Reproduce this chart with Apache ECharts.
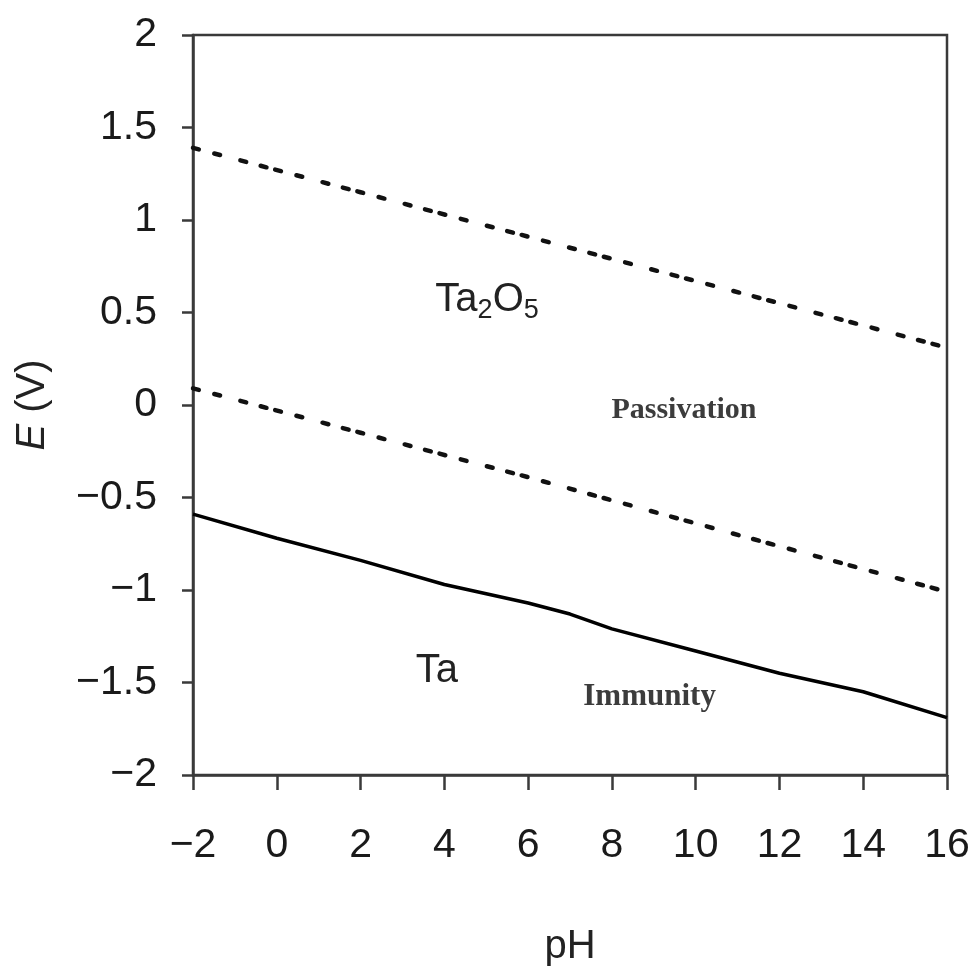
<!DOCTYPE html>
<html>
<head>
<meta charset="utf-8">
<script src="https://cdn.jsdelivr.net/npm/echarts@6/dist/echarts.min.js"></script>
<style>html,body{margin:0;padding:0;background:#fff}#c{width:974px;height:971px}</style>
</head>
<body>
<div id="c"></div>
<script>
// pH values and potentials
const pH = [-2, 0, 2, 4, 6, 7, 8, 10, 12, 14, 16];
const taLine = [-0.59, -0.72, -0.84, -0.97, -1.07, -1.13, -1.21, -1.33, -1.45, -1.55, -1.69];
const upperDotPH = [-2, 2, 6, 10, 16];
const upperDot = [1.39, 1.15, 0.91, 0.67, 0.31];
const lowerDotPH = [-2, 2, 6, 10, 16];
const lowerDot = [0.09, -0.15, -0.39, -0.64, -1.01];
const xTicks = [-2, 0, 2, 4, 6, 8, 10, 12, 14, 16];
const yTicks = [-2, -1.5, -1, -0.5, 0, 0.5, 1, 1.5, 2];
const labelTexts = ['{n|Ta}{s|2}{n|O}{s|5}', 'Passivation', 'Ta', 'Immunity'];
const labelPH = [5.02, 9.72, 3.82, 8.9];
const labelE = [0.58, -0.03, -1.44, -1.58];

const fmt = v => (v < 0 ? '\u2212' + String(-v) : String(v));
const zip = (a, b) => a.map((v, i) => [v, b[i]]);
const sans = '"Liberation Sans", Arial, Helvetica, sans-serif';
const serif = '"Liberation Serif", "Times New Roman", serif';
const dash = [6, 16, 6, 21, 6, 15, 6, 9];

const chart = echarts.init(document.getElementById('c'), null, {renderer: 'canvas'});
const labelStyles = [
  {fontFamily: sans, fontSize: 40, color: '#222',
   rich: {n: {fontFamily: sans, fontSize: 40, color: '#222', lineHeight: 44, verticalAlign: 'bottom'},
          s: {fontFamily: sans, fontSize: 27, color: '#222', lineHeight: 30, verticalAlign: 'bottom', padding: [0, 0, -4, 0]}}},
  {fontFamily: serif, fontWeight: 'bold', fontSize: 30, color: '#3c3c3c'},
  {fontFamily: sans, fontSize: 40, color: '#222'},
  {fontFamily: serif, fontWeight: 'bold', fontSize: 31, color: '#3c3c3c'}
];
chart.setOption({
  animation: false,
  backgroundColor: '#fff',
  grid: {left: 193, right: 27, top: 35, bottom: 196, containLabel: false, outerBoundsMode: 'none',
         show: true, borderColor: '#3a3a3a', borderWidth: 2.5},
  xAxis: {
    type: 'value', min: -2, max: 16, interval: 2,
    name: 'pH', nameLocation: 'middle', nameGap: 152,
    nameTextStyle: {fontFamily: sans, fontSize: 40, color: '#222'},
    axisLine: {show: true, onZero: false, lineStyle: {color: '#3a3a3a', width: 2.5}},
    axisTick: {show: true, length: 15, lineStyle: {color: '#3a3a3a', width: 2.5}},
    axisLabel: {fontFamily: sans, fontSize: 41, color: '#1a1a1a', margin: 50, formatter: fmt},
    splitLine: {show: false}
  },
  yAxis: {
    type: 'value', min: -2, max: 2, interval: 0.5,
    name: '{i|E} (V)', nameLocation: 'middle', nameGap: 140, nameRotate: 90,
    nameTextStyle: {fontFamily: sans, fontSize: 40, color: '#222',
      rich: {i: {fontFamily: sans, fontSize: 40, fontStyle: 'italic', color: '#222'}}},
    axisLine: {show: true, onZero: false, lineStyle: {color: '#3a3a3a', width: 2.5}},
    axisTick: {show: true, length: 11, lineStyle: {color: '#3a3a3a', width: 2.5}},
    axisLabel: {fontFamily: sans, fontSize: 41, color: '#1a1a1a', margin: 36, formatter: fmt},
    splitLine: {show: false}
  },
  series: [
    {type: 'line', data: zip(pH, taLine), symbol: 'none', lineStyle: {color: '#000', width: 3.5}},
    {type: 'line', data: zip(upperDotPH, upperDot), symbol: 'none', lineStyle: {color: '#111', width: 4.5, type: dash, cap: 'round'}},
    {type: 'line', data: zip(lowerDotPH, lowerDot), symbol: 'none', lineStyle: {color: '#111', width: 4.5, type: dash, cap: 'round'}},
    {type: 'scatter', symbolSize: 0, silent: true, itemStyle: {opacity: 1},
     data: labelTexts.map((t, i) => ({value: [labelPH[i], labelE[i]],
       label: Object.assign({show: true, position: 'inside', formatter: t}, labelStyles[i])}))}
  ]
});
</script>
</body>
</html>
